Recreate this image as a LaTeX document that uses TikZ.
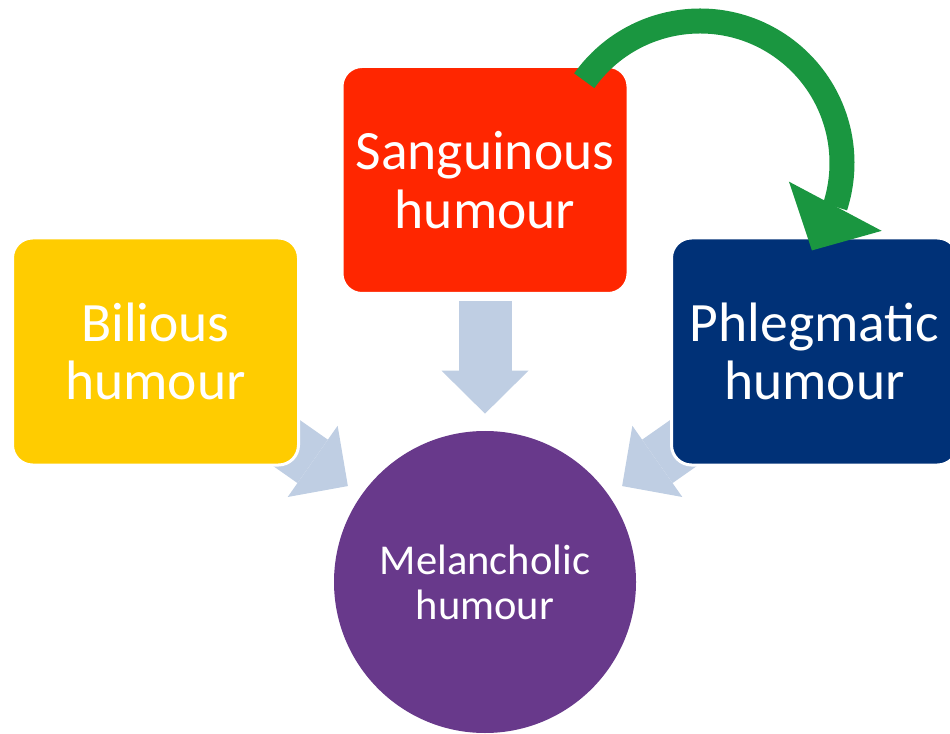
\documentclass[tikz,border=0pt]{standalone}
\usepackage{fontspec}
\setmainfont{Carlito}
\usetikzlibrary{arrows.meta,bending,backgrounds}
\definecolor{bilyellow}{HTML}{FFCC00}
\definecolor{sanred}{HTML}{FF2600}
\definecolor{phlnavy}{HTML}{003177}
\definecolor{melpurple}{HTML}{68398B}
\definecolor{flowblue}{HTML}{BFCEE3}
\definecolor{turngreen}{HTML}{1A9640}
\tikzset{
  humour/.style={rounded corners=0.4cm, draw=white, line width=0.06cm, minimum width=5.72cm,
    minimum height=4.54cm, inner sep=0pt, text=white, align=center, font=\fontsize{31.6}{33.4}\selectfont},
  flow/.style={color=flowblue, line width=1.06cm, -{Triangle[length=0.86cm,width=1.74cm,line width=0pt]}},
  turn/.style={color=turngreen, line width=0.5cm, -{Triangle[length=1cm,width=2.1cm,line width=0pt,flex]}}
}

\begin{document}
\begin{tikzpicture}
\useasboundingbox (0,0) rectangle (19,14.66);
\clip (0,0) rectangle (19,14.66);

\node[humour, fill=bilyellow] (Bil) at (3.11,7.63) {Bilious\\humour};
\node[humour, fill=sanred] (San) at (9.70,11.06) {Sanguinous\\humour};
\node[humour, fill=phlnavy] (Phl) at (16.29,7.63) {Phlegmatic\\humour};
\node[circle, fill=melpurple, minimum size=6.04cm, inner sep=0pt, text=white, align=center,
  font=\fontsize{24.2}{25.5}\selectfont] (Mel) at (9.70,3.02) {Melancholic\\humour};

\coordinate (pivot) at (14.0,11.40);

\begin{pgfonlayer}{background}
\path[flow, shorten <=0.12cm, shorten >=0.34cm] (San) edge (Mel);
\path[flow, shorten <=-0.6cm, shorten >=0.32cm] (Bil) edge (Mel);
\path[flow, shorten <=-0.6cm, shorten >=0.32cm] (Phl) edge (Mel);
\end{pgfonlayer}

\draw[turn] ([shift={(144.6:2.84)}]pivot) arc[start angle=144.6, end angle=-38, radius=2.84];
\end{tikzpicture}
\end{document}
